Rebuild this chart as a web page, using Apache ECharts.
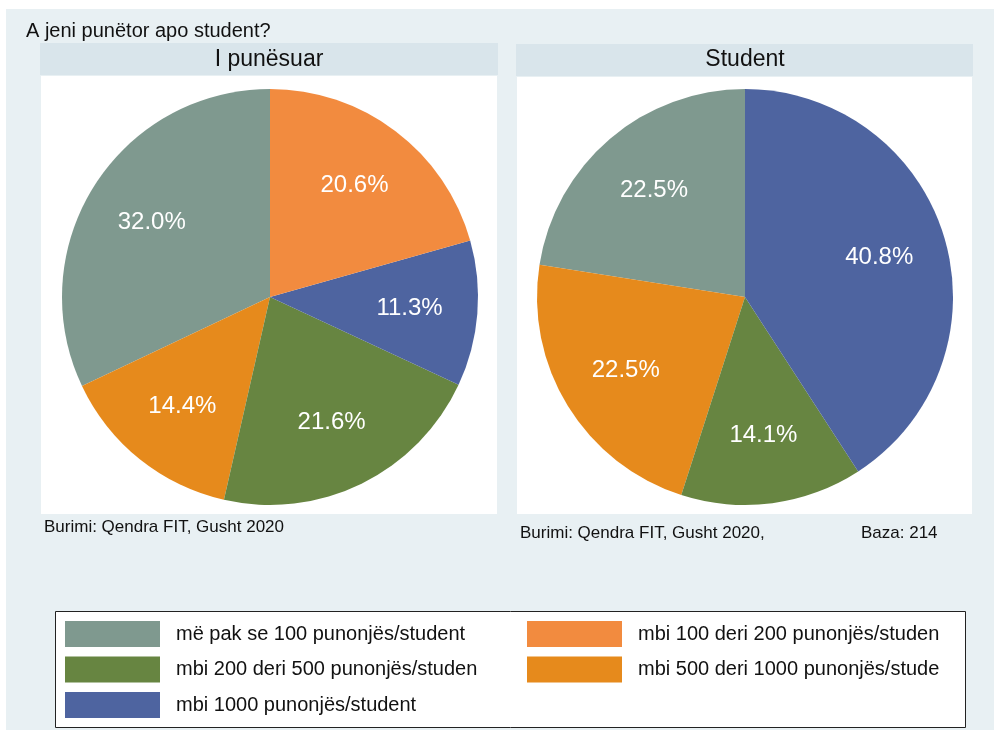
<!DOCTYPE html>
<html>
<head>
<meta charset="utf-8">
<script src="https://cdn.jsdelivr.net/npm/echarts@6/dist/echarts.min.js"></script>
<style>
  html, body { margin: 0; padding: 0; background: #fff; }
  #main { width: 994px; height: 730px; }
</style>
</head>
<body>
<div id="main"></div>
<script>
  // kategoritë, në rendin që vizatohen (kundër akrepave nga ora 12)
  var categories = [
    'më pak se 100 punonjës/student',
    'mbi 500 deri 1000 punonjës/stude',
    'mbi 200 deri 500 punonjës/studen',
    'mbi 1000 punonjës/student',
    'mbi 100 deri 200 punonjës/studen'
  ];
  var colors = ['#7F998F', '#E68A1C', '#678541', '#4E64A0', '#F28B3F'];
  var punesuar = [32.0, 14.4, 21.6, 11.3, 20.6];
  var student = [22.5, 22.5, 14.1, 40.8, 0];
  var legendLeft = [categories[0], categories[2], categories[3]];
  var legendRight = [categories[4], categories[1]];

  var FONT = 'Liberation Sans, Arial, sans-serif';
  var myChart = echarts.init(document.getElementById('main'));

  function pieData(vals) {
    return vals.map(function (v, i) {
      return { name: categories[i], value: v, itemStyle: { color: colors[i] } };
    });
  }

  // seria e dukshme
  function pieSeries(vals, cx) {
    return {
      type: 'pie',
      center: [cx, 297],
      radius: [0, 208],
      startAngle: 90,
      clockwise: false,
      silent: true,
      data: pieData(vals),
      label: { show: false },
      labelLine: { show: false },
      emphasis: { disabled: true }
    };
  }
  // seri e padukshme, vetem per etiketat (ne ~2/3 e rrezes)
  function labelSeries(vals, cx) {
    return {
      type: 'pie',
      center: [cx, 297],
      radius: [0, 274],
      startAngle: 90,
      clockwise: false,
      silent: true,
      z: 3,
      data: vals.map(function (v, i) {
        return { name: categories[i], value: v, itemStyle: { color: 'rgba(0,0,0,0)' } };
      }),
      label: {
        show: true,
        position: 'inside',
        color: '#fff',
        fontSize: 24,
        fontFamily: FONT,
        formatter: function (p) {
          return p.value > 0 ? p.value.toFixed(1) + '%' : '';
        }
      },
      labelLine: { show: false },
      emphasis: { disabled: true }
    };
  }

  var legendCommon = {
    orient: 'vertical',
    itemWidth: 95,
    itemHeight: 26,
    itemGap: 9.5,
    icon: 'rect',
    selectedMode: false,
    textStyle: { fontSize: 20, color: '#111', fontFamily: FONT, padding: [0, 0, 0, 11] }
  };

  var option = {
    animation: false,
    backgroundColor: '#fff',
    textStyle: { fontFamily: FONT },
    color: colors,
    graphic: [
      { type: 'rect', z: -10, shape: { x: 6, y: 9, width: 988, height: 721 }, style: { fill: '#E8F0F3' } },
      { type: 'rect', z: -9, shape: { x: 40, y: 43, width: 458, height: 32 }, style: { fill: '#D9E5EB' } },
      { type: 'rect', z: -9, shape: { x: 41, y: 76, width: 456, height: 438 }, style: { fill: '#fff' } },
      { type: 'rect', z: -9, shape: { x: 516, y: 44, width: 457, height: 32 }, style: { fill: '#D9E5EB' } },
      { type: 'rect', z: -9, shape: { x: 517, y: 77, width: 455, height: 437 }, style: { fill: '#fff' } },
      { type: 'rect', z: -9, shape: { x: 55.5, y: 611.5, width: 910, height: 116 }, style: { fill: '#fff', stroke: '#222', lineWidth: 1 } },
      { type: 'text', z: 5, x: 26, y: 31, style: { text: 'A jeni punëtor apo student?', fontSize: 20, fill: '#111', fontFamily: FONT, verticalAlign: 'middle' } },
      { type: 'text', z: 5, x: 269, y: 60, style: { text: 'I punësuar', fontSize: 23, fill: '#111', fontFamily: FONT, align: 'center', verticalAlign: 'middle' } },
      { type: 'text', z: 5, x: 745, y: 60, style: { text: 'Student', fontSize: 23, fill: '#111', fontFamily: FONT, align: 'center', verticalAlign: 'middle' } },
      { type: 'text', z: 5, x: 44, y: 527, style: { text: 'Burimi: Qendra FIT, Gusht 2020', fontSize: 17, fill: '#111', fontFamily: FONT, verticalAlign: 'middle' } },
      { type: 'text', z: 5, x: 520, y: 533, style: { text: 'Burimi: Qendra FIT, Gusht 2020,', fontSize: 17, fill: '#111', fontFamily: FONT, verticalAlign: 'middle' } },
      { type: 'text', z: 5, x: 861, y: 533, style: { text: 'Baza: 214', fontSize: 17, fill: '#111', fontFamily: FONT, verticalAlign: 'middle' } }
    ],
    legend: [
      Object.assign({ left: 65, top: 621, padding: 0, data: legendLeft }, legendCommon),
      Object.assign({ left: 527, top: 621, padding: 0, data: legendRight }, legendCommon)
    ],
    series: [
      pieSeries(punesuar, 270),
      pieSeries(student, 745),
      labelSeries(punesuar, 270),
      labelSeries(student, 745)
    ]
  };
  myChart.setOption(option);
</script>
</body>
</html>
